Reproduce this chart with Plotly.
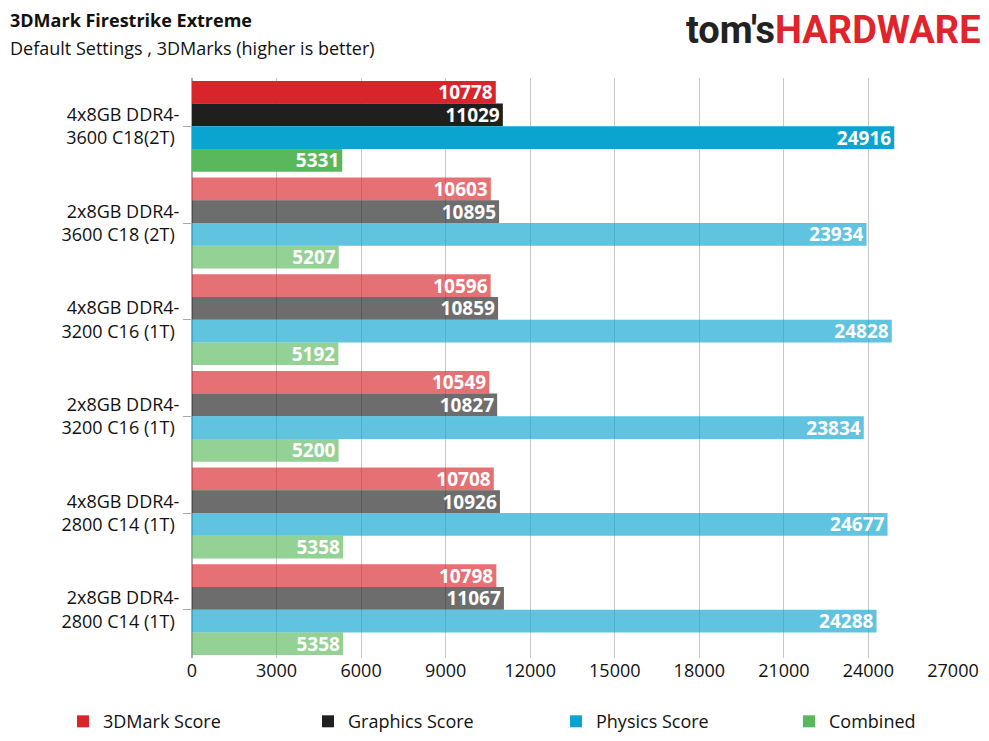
import plotly.graph_objects as go

configs = ["4x8GB DDR4-<br>3600 C18(2T)", "2x8GB DDR4-<br>3600 C18 (2T)", "4x8GB DDR4-<br>3200 C16 (1T)",
           "2x8GB DDR4-<br>3200 C16 (1T)", "4x8GB DDR4-<br>2800 C14 (1T)", "2x8GB DDR4-<br>2800 C14 (1T)"]
mark_score = [10778, 10603, 10596, 10549, 10708, 10798]
graphics_score = [11029, 10895, 10859, 10827, 10926, 11067]
physics_score = [24916, 23934, 24828, 23834, 24677, 24288]
combined = [5331, 5207, 5192, 5200, 5358, 5358]
x_ticks = list(range(0, 27001, 3000))

series = [("3DMark Score", mark_score, (217, 37, 42)),
          ("Graphics Score", graphics_score, (32, 31, 31)),
          ("Physics Score", physics_score, (11, 163, 208)),
          ("Combined", combined, (90, 184, 92))]
legend_x = [55, 300, 548, 781]

fig = go.Figure()
legends = {}
for k, (name, vals, (r, g, b)) in enumerate(series):
    cols = [f"rgb({r},{g},{b})" if i == 0 else f"rgba({r},{g},{b},0.65)" for i in range(len(vals))]
    lname = f"legend{k + 2}"
    fig.add_trace(go.Bar(
        y=configs, x=vals, name=name, orientation="h", legend=lname,
        marker=dict(color=cols, line=dict(width=0)),
        text=vals, textposition="inside", insidetextanchor="end",
        textfont=dict(color="white", size=19, family="Open Sans"),
        texttemplate="<b>%{text}</b>",
    ))
    legends[lname] = dict(orientation="h", xref="container", yref="container",
                          x=legend_x[k] / 989, xanchor="left", y=0.012, yanchor="bottom",
                          font=dict(size=18), itemwidth=30, bgcolor="rgba(0,0,0,0)")

fig.update_layout(
    width=989, height=741, barmode="group", bargap=0.06, bargroupgap=0.0,
    plot_bgcolor="white", paper_bgcolor="white",
    margin=dict(l=184, r=44, t=70, b=91, autoexpand=False),
    font=dict(family="Open Sans", color="#111", size=18),
    xaxis=dict(range=[0, 27000], tickvals=x_ticks, ticktext=[str(v) for v in x_ticks], showgrid=True,
               gridcolor="#c8c8c8", zeroline=True, zerolinecolor="#aaaaaa",
               tickfont=dict(size=18), ticks="", showline=False, automargin=False),
    yaxis=dict(autorange="reversed", tickfont=dict(size=18), ticks="outside", ticklen=8,
               tickcolor="#aaaaaa", showline=True, linecolor="#aaaaaa", ticksuffix=" ",
               automargin=False),
    uniformtext=dict(mode="show", minsize=16),
    **legends,
)
fig.add_annotation(text="<b>3DMark Firestrike Extreme</b>", xref="paper", yref="paper",
                   x=-184/761, y=1.1, xanchor="left", yanchor="middle", showarrow=False,
                   font=dict(size=18))
fig.add_annotation(text="Default Settings , 3DMarks (higher is better)", xref="paper", yref="paper",
                   x=-184/761, y=1.052, xanchor="left", yanchor="middle", showarrow=False,
                   font=dict(size=18))
fig.add_annotation(text="<b>tom's</b><span style='color:#E0242B'><b>HARDWARE</b></span>",
                   xref="paper", yref="paper", x=1.04, y=1.082, xanchor="right",
                   yanchor="middle", showarrow=False,
                   font=dict(size=38, family="Roboto", color="#222"))
fig.write_html("out.html")
